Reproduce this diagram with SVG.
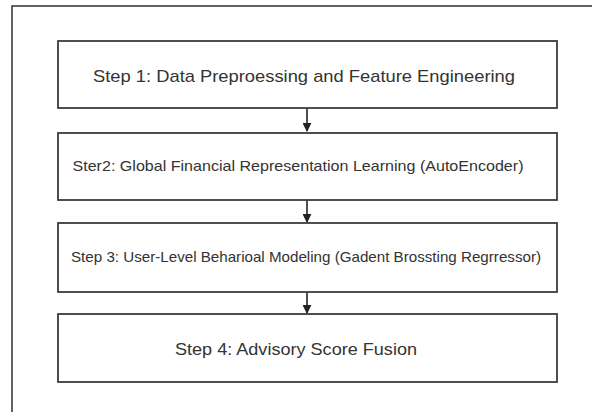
<svg xmlns="http://www.w3.org/2000/svg" width="592" height="412" viewBox="0 0 592 412">
  <style>
    .frame { fill: none; stroke: #3c3c3c; stroke-width: 1.6; }
    .box { fill: #ffffff; stroke: #3c3c3c; stroke-width: 1.8; }
    .label { font-family: "Liberation Sans", Arial, sans-serif; fill: #333333; text-anchor: middle; dominant-baseline: central; }
    .edge { stroke: #222222; stroke-width: 1.6; fill: none; marker-end: url(#arrow); }
  </style>
  <defs>
    <marker id="arrow" viewBox="0 0 10 10" refX="9" refY="5" markerWidth="9" markerHeight="9" markerUnits="userSpaceOnUse" orient="auto">
      <path d="M0,0 L10,5 L0,10 Z" fill="#222222"/>
    </marker>
  </defs>
  <rect width="592" height="412" fill="#ffffff"/>
  <!-- outer frame running past the right and bottom edges -->
  <rect class="frame" x="12" y="6" width="600" height="420"/>

  <g id="connectors">
    <line class="edge" x1="307" y1="108" x2="307" y2="131"/>
    <line class="edge" x1="307" y1="200" x2="307" y2="222"/>
    <line class="edge" x1="307" y1="292" x2="307" y2="313"/>
  </g>

  <g id="step1">
    <rect class="box" x="58" y="41" width="499" height="67"/>
    <text class="label" x="304" y="76" font-size="16.2" textLength="422" lengthAdjust="spacingAndGlyphs">Step 1: Data Preproessing and Feature Engineering</text>
  </g>
  <g id="step2">
    <rect class="box" x="58" y="133" width="499" height="67"/>
    <text class="label" x="298" y="166" font-size="14.4" textLength="451" lengthAdjust="spacingAndGlyphs">Ster2: Global Financial Representation Learning (AutoEncoder)</text>
  </g>
  <g id="step3">
    <rect class="box" x="58" y="223" width="499" height="69"/>
    <text class="label" x="306" y="257" font-size="14.2" textLength="470" lengthAdjust="spacingAndGlyphs">Step 3: User-Level Beharioal Modeling (Gadent Brossting Regrressor)</text>
  </g>
  <g id="step4">
    <rect class="box" x="58" y="314" width="499" height="68"/>
    <text class="label" x="296" y="349" font-size="16.2" textLength="242" lengthAdjust="spacingAndGlyphs">Step 4: Advisory Score Fusion</text>
  </g>
</svg>
